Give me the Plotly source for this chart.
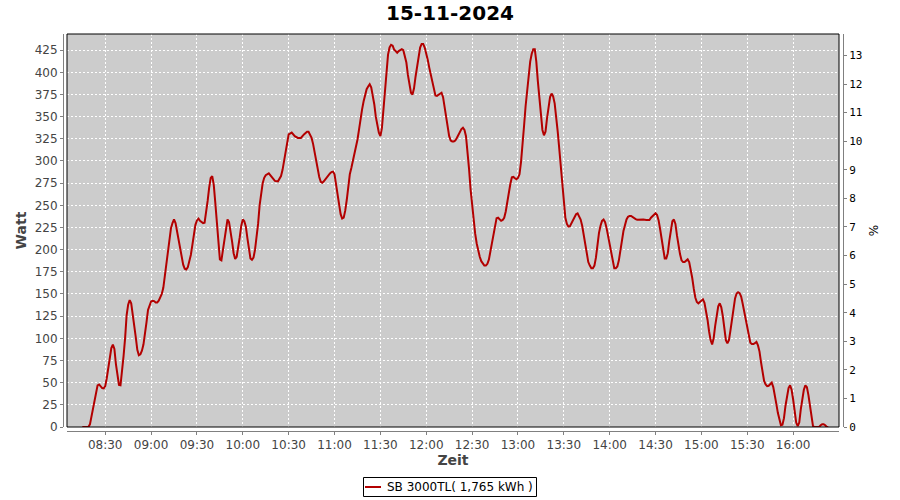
import plotly.graph_objects as go

title_text = "15-11-2024"
series_name = "SB 3000TL( 1,765 kWh )"
x_title = "Zeit"
y_title = "Watt"
y2_title = "%"

times = [
    "08:15", "08:19", "08:20", "08:21", "08:22", "08:23", "08:24", "08:25", "08:26", "08:27", "08:28", "08:29",
    "08:30", "08:31", "08:32", "08:33", "08:34", "08:35", "08:36", "08:37", "08:38", "08:39", "08:40", "08:41",
    "08:42", "08:43", "08:44", "08:45", "08:46", "08:47", "08:48", "08:49", "08:50", "08:51", "08:52", "08:53",
    "08:54", "08:55", "08:56", "08:57", "08:58", "08:59", "09:00", "09:01", "09:02", "09:03", "09:04", "09:05",
    "09:06", "09:07", "09:08", "09:09", "09:10", "09:11", "09:12", "09:13", "09:14", "09:15", "09:16", "09:17",
    "09:18", "09:19", "09:20", "09:21", "09:22", "09:23", "09:24", "09:25", "09:26", "09:27", "09:28", "09:29",
    "09:30", "09:31", "09:32", "09:33", "09:34", "09:35", "09:36", "09:37", "09:38", "09:39", "09:40", "09:41",
    "09:42", "09:43", "09:44", "09:45", "09:46", "09:47", "09:48", "09:49", "09:50", "09:51", "09:52", "09:53",
    "09:54", "09:55", "09:56", "09:57", "09:58", "09:59", "10:00", "10:01", "10:02", "10:03", "10:04", "10:05",
    "10:06", "10:07", "10:08", "10:09", "10:10", "10:11", "10:12", "10:13", "10:14", "10:15", "10:17", "10:19",
    "10:21", "10:23", "10:25", "10:26", "10:27", "10:28", "10:29", "10:30", "10:32", "10:34", "10:36", "10:38",
    "10:40", "10:42", "10:43", "10:44", "10:45", "10:46", "10:47", "10:48", "10:49", "10:50", "10:51", "10:52",
    "10:53", "10:55", "10:57", "10:58", "10:59", "11:00", "11:01", "11:02", "11:03", "11:04", "11:05", "11:06",
    "11:07", "11:08", "11:09", "11:10", "11:11", "11:12", "11:13", "11:14", "11:15", "11:16", "11:17", "11:18",
    "11:19", "11:20", "11:21", "11:22", "11:23", "11:24", "11:25", "11:26", "11:27", "11:28", "11:29", "11:30",
    "11:31", "11:32", "11:33", "11:34", "11:35", "11:36", "11:37", "11:38", "11:39", "11:40", "11:41", "11:42",
    "11:43", "11:44", "11:45", "11:46", "11:47", "11:48", "11:49", "11:50", "11:51", "11:52", "11:53", "11:54",
    "11:55", "11:56", "11:57", "11:58", "11:59", "12:00", "12:01", "12:02", "12:03", "12:04", "12:05", "12:06",
    "12:07", "12:08", "12:09", "12:10", "12:11", "12:12", "12:13", "12:14", "12:15", "12:16", "12:17", "12:18",
    "12:19", "12:20", "12:21", "12:22", "12:23", "12:24", "12:25", "12:26", "12:27", "12:28", "12:29", "12:30",
    "12:31", "12:32", "12:33", "12:34", "12:35", "12:36", "12:37", "12:38", "12:39", "12:40", "12:41", "12:42",
    "12:43", "12:44", "12:45", "12:46", "12:47", "12:48", "12:49", "12:50", "12:51", "12:52", "12:53", "12:54",
    "12:55", "12:56", "12:57", "12:58", "12:59", "13:00", "13:01", "13:02", "13:03", "13:04", "13:05", "13:06",
    "13:07", "13:08", "13:09", "13:10", "13:11", "13:12", "13:13", "13:14", "13:15", "13:16", "13:17", "13:18",
    "13:19", "13:20", "13:21", "13:22", "13:23", "13:24", "13:25", "13:26", "13:27", "13:28", "13:29", "13:30",
    "13:31", "13:32", "13:33", "13:34", "13:35", "13:36", "13:37", "13:38", "13:39", "13:40", "13:41", "13:42",
    "13:43", "13:44", "13:45", "13:46", "13:47", "13:48", "13:49", "13:50", "13:51", "13:52", "13:53", "13:54",
    "13:55", "13:56", "13:57", "13:58", "13:59", "14:00", "14:01", "14:02", "14:03", "14:04", "14:05", "14:06",
    "14:07", "14:08", "14:09", "14:10", "14:11", "14:12", "14:13", "14:14", "14:15", "14:16", "14:17", "14:18",
    "14:20", "14:22", "14:24", "14:26", "14:27", "14:28", "14:29", "14:30", "14:31", "14:32", "14:33", "14:34",
    "14:35", "14:36", "14:37", "14:38", "14:39", "14:40", "14:41", "14:42", "14:43", "14:44", "14:45", "14:46",
    "14:47", "14:48", "14:49", "14:50", "14:51", "14:52", "14:53", "14:54", "14:55", "14:56", "14:57", "14:58",
    "14:59", "15:00", "15:01", "15:02", "15:03", "15:04", "15:05", "15:06", "15:07", "15:08", "15:09", "15:10",
    "15:11", "15:12", "15:13", "15:14", "15:15", "15:16", "15:17", "15:18", "15:19", "15:20", "15:21", "15:22",
    "15:23", "15:24", "15:25", "15:26", "15:27", "15:28", "15:29", "15:30", "15:31", "15:32", "15:33", "15:34",
    "15:35", "15:36", "15:37", "15:38", "15:39", "15:40", "15:41", "15:42", "15:43", "15:44", "15:45", "15:46",
    "15:47", "15:48", "15:49", "15:50", "15:51", "15:52", "15:53", "15:54", "15:55", "15:56", "15:57", "15:58",
    "15:59", "16:00", "16:01", "16:02", "16:03", "16:04", "16:05", "16:06", "16:07", "16:08", "16:09", "16:10",
    "16:11", "16:12", "16:13", "16:14", "16:17", "16:18", "16:19", "16:20", "16:21", "16:22", "16:23",
]

watts = [
    0, 0, 3, 12, 20, 31, 41, 47, 48, 45.5, 43.8, 43.6,
    46, 55, 67, 80, 89, 93, 88, 71, 57, 47.5, 47, 62,
    80, 100, 126, 138, 143, 139.5, 128, 115, 101, 87, 81, 82,
    86, 93, 103, 118, 132, 138, 141.5, 142.3, 142, 140.5, 140.5, 142.5,
    146, 150, 157, 171, 185, 200, 214, 224, 230, 234, 230, 221,
    212, 202, 191, 183, 178.5, 177.7, 180, 186, 194, 205, 217, 228,
    233, 235, 232.5, 231, 230, 230.5, 241, 255, 270, 281, 283, 273,
    253, 231, 206, 189, 188, 200, 216, 228, 234, 231, 222, 209,
    196, 189.5, 192, 201, 214, 227, 234, 232, 226, 213, 198, 190,
    188.5, 191, 200, 212, 229, 250, 265, 275, 281, 284, 286, 282,
    277.5, 277, 283, 290, 300, 314, 324, 330, 332, 328, 326, 326,
    330, 333, 333, 330, 326, 319, 310, 301, 290, 282, 276.5, 275.5,
    277, 282, 286, 287.5, 288, 285, 275, 261, 251, 240, 235, 236,
    244, 256, 272, 285, 292, 300, 309, 315, 324, 335, 348, 358,
    367, 374, 381, 384, 386.5, 383, 375, 364, 350, 340, 332, 328,
    337, 358, 381, 401, 420, 428, 431, 430, 425.5, 424, 422, 424,
    425, 426, 425, 419, 411, 397, 384, 377, 375, 382, 395, 408,
    420, 428, 432, 432, 428, 422, 414, 405, 397, 388, 379, 374,
    373.5, 374.5, 376, 377, 372, 360, 349, 338, 328, 323, 322, 322,
    323, 326, 330, 333.5, 336, 337.5, 335, 328, 312, 291, 268, 249,
    233, 218, 207, 198, 192, 187, 184, 182, 182, 184, 189, 199,
    210, 220, 230, 235.5, 236, 234, 232.5, 233.5, 236, 243, 254, 264,
    274, 281.5, 282, 280.5, 279.5, 281, 285, 299, 317, 340, 362, 380,
    400, 412, 421, 426, 426, 412, 390, 369, 349, 335, 329, 333,
    348, 361, 372, 376, 373, 365, 352, 333, 314, 294, 275, 255,
    236, 229, 226, 226.5, 230, 234, 237.5, 240, 241, 238, 234, 227,
    216, 206, 194, 186, 182, 179, 179, 182, 191, 206, 219, 227,
    232.5, 234, 231, 224, 215, 203, 193, 184, 179, 179, 181, 188,
    197, 210, 221, 229, 234, 237, 238, 238, 236.5, 235, 234.5, 233.7,
    234.2, 234, 233.5, 233.5, 236, 238, 240, 241, 239, 233, 223, 210,
    199, 190, 190, 196, 210, 223, 232, 234, 229, 216, 204, 195,
    188, 186, 186, 187.5, 189, 186, 178, 168, 156, 146, 141, 139.5,
    141, 143, 144, 140, 131, 121, 108, 98, 93, 100, 114, 126,
    136, 139.5, 135, 125, 111, 98, 94.5, 98, 109, 122, 136, 145,
    150.5, 152, 151, 147, 139, 130, 121, 109, 100, 95, 93.5, 93.5,
    94.5, 96, 92, 85, 73, 62, 52, 48, 46, 46.5, 48.5, 50,
    45, 37, 26, 16, 8, 2, 2.5, 10, 24, 36, 44, 47,
    42, 31, 18, 5, 1, 5, 20, 32, 42, 47, 45, 36,
    26, 13, 1, 0, 0, 2, 3, 3, 2, 0, 0,
]

x_tick_labels = ["08:30", "09:00", "09:30", "10:00", "10:30", "11:00", "11:30", "12:00",
                 "12:30", "13:00", "13:30", "14:00", "14:30", "15:00", "15:30", "16:00"]
watt_ticks = [0, 25, 50, 75, 100, 125, 150, 175, 200, 225, 250, 275, 300, 325, 350, 375, 400, 425]
percent_ticks = [0, 1, 2, 3, 4, 5, 6, 7, 8, 9, 10, 11, 12, 13]
percent_range = [0, 13.75]
watt_range = [0, 443.2]

day = "2024-11-15 "
x_vals = [day + t + ":00" for t in times]
x_tick_vals = [day + t + ":00" for t in x_tick_labels]
x_range = [day + "08:05:00", day + "16:30:00"]

W, H = 900, 500


def fx(px):
    return px / W


def fy(py):
    return 1 - py / H


line_color = "#b30000"
axis_gray = "#808080"
label_gray = "#444444"

fig = go.Figure()
fig.add_trace(go.Scatter(
    x=x_vals, y=watts, mode="lines", name=series_name,
    line=dict(color=line_color, width=2),
    yaxis="y", xaxis="x", showlegend=False,
))
# percent axis carries no series of its own; an empty trace makes Plotly draw it
fig.add_trace(go.Scatter(x=[], y=[], yaxis="y2", xaxis="x", showlegend=False,
                         mode="lines", hoverinfo="skip"))

fig.update_layout(
    template="none",
    width=W, height=H,
    margin=dict(l=0, r=0, t=0, b=0, autoexpand=False),
    paper_bgcolor="white",
    plot_bgcolor="#cccccc",
    font=dict(family="DejaVu Sans", size=12, color=label_gray),
    title=dict(text=title_text, x=fx(450), xref="paper", y=fy(13), yref="container",
               xanchor="center", yanchor="middle",
               font=dict(family="DejaVu Sans", size=20, color="black", weight="bold")),
    xaxis=dict(
        domain=[fx(67), fx(839)], anchor="free", position=fy(431),
        type="date", range=x_range,
        tickmode="array", tickvals=x_tick_vals, ticktext=x_tick_labels,
        ticks="outside", ticklen=3, tickcolor=axis_gray, tickwidth=1,
        showline=True, linecolor=axis_gray, linewidth=1,
        showgrid=True, gridcolor="white", gridwidth=1, griddash="2px,2px",
        zeroline=False, automargin=False,
        tickfont=dict(family="DejaVu Sans", size=12, color=label_gray),
        title=dict(text=x_title, font=dict(family="DejaVu Sans", size=14, color=label_gray, weight="bold"),
                   standoff=3),
    ),
    yaxis=dict(
        domain=[fy(427), fy(34)], anchor="free", position=fx(63),
        range=watt_range,
        tickmode="array", tickvals=watt_ticks,
        ticks="outside", ticklen=3, tickcolor=axis_gray, tickwidth=1,
        showline=True, linecolor=axis_gray, linewidth=1,
        showgrid=True, gridcolor="white", gridwidth=1, griddash="2px,2px",
        zeroline=False, automargin=False,
        tickfont=dict(family="DejaVu Sans", size=12, color=label_gray),
        title=dict(text=y_title, font=dict(family="DejaVu Sans", size=14, color=label_gray, weight="bold"),
                   standoff=3),
    ),
    yaxis2=dict(
        domain=[fy(427), fy(34)], anchor="free", position=fx(843),
        overlaying="y", side="right",
        range=percent_range,
        tickmode="array", tickvals=percent_ticks,
        ticks="outside", ticklen=3, tickcolor=axis_gray, tickwidth=1,
        showline=True, linecolor=axis_gray, linewidth=1,
        showgrid=False, zeroline=False, automargin=False,
        tickfont=dict(family="DejaVu Sans Mono", size=11, color="black"),
        title=dict(text=y2_title, font=dict(family="DejaVu Sans", size=12, color="black"), standoff=8),
    ),
    shapes=[
        # plot frame
        dict(type="rect", xref="x domain", yref="y domain", x0=0, x1=1, y0=0, y1=1,
             line=dict(color="black", width=1), layer="above"),
        # legend box and swatch
        dict(type="rect", xref="paper", yref="paper", x0=fx(363.5), x1=fx(536.5), y0=fy(496.5), y1=fy(477.5),
             line=dict(color="black", width=1), fillcolor="white", layer="above"),
        dict(type="line", xref="paper", yref="paper", x0=fx(365), x1=fx(381), y0=fy(487), y1=fy(487),
             line=dict(color=line_color, width=2), layer="above"),
    ],
    annotations=[
        dict(text=series_name, xref="paper", yref="paper", x=fx(385), y=fy(487),
             xanchor="left", yanchor="middle", showarrow=False,
             font=dict(family="DejaVu Sans", size=12, color="black")),
    ],
)

# remove the default 8px body margin so the 900x500 figure fills the window
fig.write_html("out.html", config={"displayModeBar": False},
               post_script="document.body.style.margin='0';")
